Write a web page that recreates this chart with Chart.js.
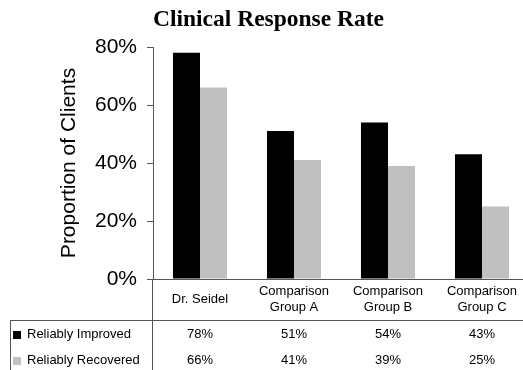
<!DOCTYPE html>
<html>
<head>
<meta charset="utf-8">
<script src="https://cdn.jsdelivr.net/npm/chart.js@4"></script>
<style>
  html, body { margin: 0; padding: 0; background: #fff; overflow: hidden; }
  #wrap { width: 530px; height: 370px; }
</style>
</head>
<body>
<div id="wrap"><canvas id="responseChart" width="530" height="370"></canvas></div>
<script>
const categories = [["Dr. Seidel"], ["Comparison", "Group A"], ["Comparison", "Group B"], ["Comparison", "Group C"]];
const improved = [78, 51, 54, 43];
const recovered = [66, 41, 39, 25];
const yTicks = [0, 20, 40, 60, 80];

const lineColor = "#555";
const sansFont = "Arial, 'Liberation Sans', sans-serif";

// draws the data table under the plot (category row + legend rows)
const tablePlugin = {
  id: "dataTable",
  afterDraw(chart) {
    const ctx = chart.ctx;
    const x = chart.scales.x;
    const area = chart.chartArea;
    const tableTop = 320;
    const rowY = [334, 360];

    ctx.save();
    ctx.strokeStyle = lineColor;
    ctx.lineWidth = 1;
    ctx.beginPath();
    ctx.moveTo(10, tableTop + 0.5);
    ctx.lineTo(chart.width, tableTop + 0.5);
    ctx.moveTo(10.5, tableTop);
    ctx.lineTo(10.5, chart.height);
    ctx.moveTo(area.left - 0.5, area.bottom);
    ctx.lineTo(area.left - 0.5, chart.height);
    ctx.stroke();

    ctx.fillStyle = "#000";
    ctx.font = "13px " + sansFont;
    ctx.textAlign = "center";
    ctx.textBaseline = "middle";

    categories.forEach((lines, i) => {
      const cx = x.getPixelForValue(i);
      if (lines.length === 1) {
        ctx.fillText(lines[0], cx, 299);
      } else {
        ctx.fillText(lines[0], cx, 291);
        ctx.fillText(lines[1], cx, 307);
      }
      ctx.fillText(improved[i] + "%", cx, rowY[0]);
      ctx.fillText(recovered[i] + "%", cx, rowY[1]);
    });

    ctx.textAlign = "left";
    chart.data.datasets.forEach((ds, r) => {
      ctx.fillStyle = ds.backgroundColor;
      ctx.fillRect(13, rowY[r] - 3, 8, 8);
      ctx.fillStyle = "#000";
      ctx.fillText(ds.label, 27, rowY[r]);
    });
    ctx.restore();
  }
};

new Chart(document.getElementById("responseChart"), {
  type: "bar",
  data: {
    labels: categories.map(c => c.join(" ")),
    datasets: [
      { label: "Reliably Improved", data: improved, backgroundColor: "#000000" },
      { label: "Reliably Recovered", data: recovered, backgroundColor: "#c0c0c0" }
    ]
  },
  options: {
    responsive: false,
    animation: false,
    layout: { padding: { left: 8, right: 1, top: 0, bottom: 0 } },
    datasets: { bar: { categoryPercentage: 0.575, barPercentage: 1 } },
    plugins: {
      legend: { display: false },
      tooltip: { enabled: false },
      title: {
        display: true,
        text: "Clinical Response Rate",
        color: "#000",
        font: { family: "'Times New Roman', 'Liberation Serif', serif", size: 23.5, weight: "bold" },
        padding: { top: 5.5, bottom: 13.3 }
      }
    },
    scales: {
      x: {
        grid: { display: false },
        border: { display: true, color: lineColor },
        ticks: { display: false },
        afterFit(scale) { scale.height = 91; }
      },
      y: {
        min: 0,
        max: 80,
        afterBuildTicks(scale) { scale.ticks = yTicks.map(v => ({ value: v })); },
        grid: { display: true, drawOnChartArea: false, drawTicks: true, tickLength: 6, color: lineColor },
        border: { display: true, color: lineColor },
        ticks: {
          color: "#000",
          padding: 10,
          font: { family: sansFont, size: 21 },
          callback: v => v + "%"
        },
        title: {
          display: true,
          text: "Proportion of Clients",
          color: "#000",
          font: { family: sansFont, size: 21 },
          padding: { top: 49, bottom: 0 }
        },
        afterFit(scale) { scale.width = 145; }
      }
    }
  },
  plugins: [tablePlugin]
});
</script>
</body>
</html>
